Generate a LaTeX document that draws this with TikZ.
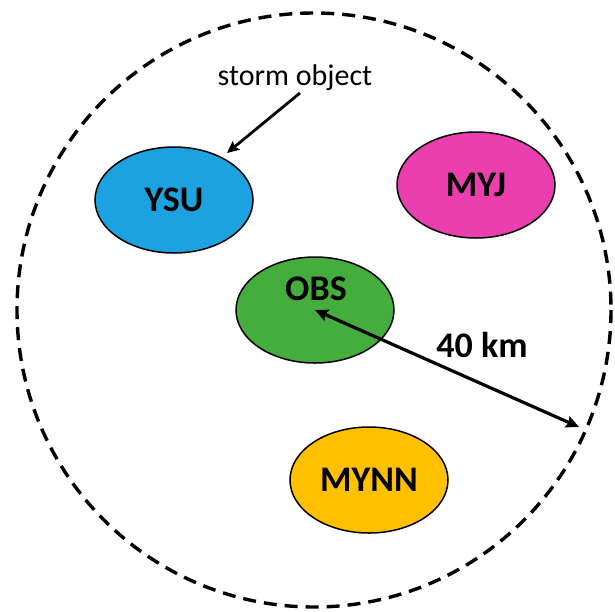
\documentclass[tikz,border=0pt]{standalone}
\usepackage{fontspec}
\setmainfont{Carlito}
\usetikzlibrary{shapes.geometric,arrows.meta}
\definecolor{ysublue}{HTML}{1CA3DF}
\definecolor{myjpink}{HTML}{EC3FAF}
\definecolor{obsgreen}{HTML}{44AD3E}
\definecolor{mynngold}{HTML}{FFC000}
\tikzset{
  scheme/.style={ellipse, draw=black, line width=1.5pt, minimum width=158pt, minimum height=106pt, inner sep=0pt, font=\fontsize{36}{40}\selectfont\bfseries},
  bigtext/.style={inner sep=0pt, font=\fontsize{36}{40}\selectfont\bfseries},
  smalltext/.style={inner sep=0pt, font=\fontsize{30}{34}\selectfont},
  radiusline/.style={line width=3.2pt, {Stealth[length=13pt,width=12pt,inset=2pt]}-{Stealth[length=13pt,width=12pt,inset=2pt]}},
  pointer/.style={line width=2.8pt, -{Stealth[length=12pt,width=11pt,inset=2pt]}},
  searcharea/.style={draw=black, dash pattern=on 13pt off 8pt, line width=3.4pt}
}
\begin{document}
\begin{tikzpicture}[x=1pt,y=-1pt]
\useasboundingbox (0,0) rectangle (615,611);
\draw[searcharea] (314,310) circle (297);
\node[scheme, fill=ysublue] (ysu) at (174,200) {YSU};
\node[scheme, fill=myjpink] (myj) at (476,185) {MYJ};
\node[scheme, fill=obsgreen] (obs) at (315,310) {};
\node[bigtext] (obstext) at (316,289) {OBS};
\node[scheme, fill=mynngold] (mynn) at (369,480) {MYNN};
\node[smalltext, anchor=base] (storm) at (295,85) {storm object};
\node[bigtext] (dist) at (482,345) {40 km};
\coordinate (stormstart) at (300,93);
\coordinate (stormtip) at (227,153);
\coordinate (rim) at (579,427);
\draw[pointer] (stormstart) -- (stormtip);
\draw[radiusline] (obs.center) -- (rim);
\end{tikzpicture}
\end{document}
